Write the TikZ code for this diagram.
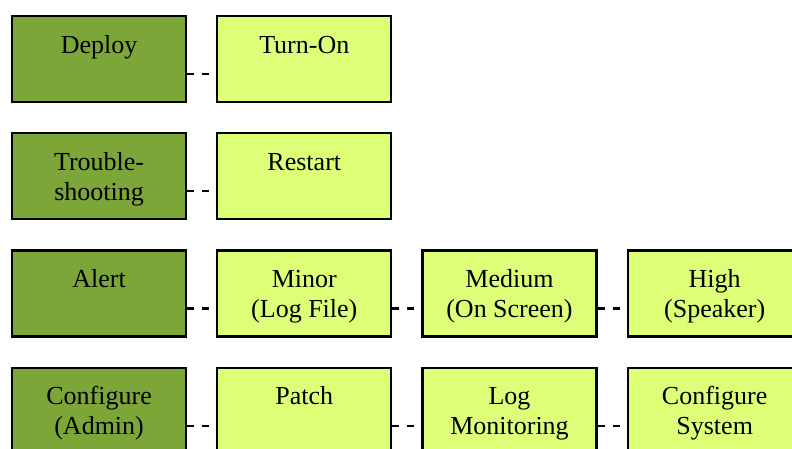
\documentclass[tikz,border=0pt]{standalone}
\usepackage{fontspec}
\setmainfont{Liberation Serif}
\newfontfamily\boxfont{Liberation Serif}
\usetikzlibrary{positioning}
\definecolor{stagegreen}{RGB}{124,166,56}
\definecolor{actiongreen}{RGB}{221,255,120}

\begin{document}
\begin{tikzpicture}[x=1pt,y=1pt,
    box/.style={draw=black,line width=2.2pt,minimum width=174pt,minimum height=86pt,
      inner sep=0pt,align=center,text height=48pt,text depth=0pt,
      font=\boxfont\fontsize{26}{30}\selectfont},
    stage/.style={box,fill=stagegreen},
    action/.style={box,fill=actiongreen},
    link/.style={line width=2.2pt,dash pattern=on 7pt off 8pt}]
    \clip (0,0) rectangle (792,-448);

    % stages on the left
    \node[stage,anchor=north west] (deploy) at (11,-15) {Deploy\\\strut};
    \node[stage,below=29pt of deploy] (trouble) {Trouble-\\shooting};
    \node[stage,below=29pt of trouble] (alert) {Alert\\\strut};
    \node[stage,below=29pt of alert] (config) {Configure\\(Admin)};

    % actions of each stage
    \node[action,right=29pt of deploy] (turnon) {Turn-On\\\strut};
    \node[action,right=29pt of trouble] (restart) {Restart\\\strut};
    \node[action,right=29pt of alert] (minor) {Minor\\(Log File)};
    \node[action,right=29pt of minor] (medium) {Medium\\(On Screen)};
    \node[action,right=29pt of medium] (high) {High\\(Speaker)};
    \node[action,right=29pt of config] (patch) {Patch\\\strut};
    \node[action,right=29pt of patch] (logmon) {Log\\Monitoring};
    \node[action,right=29pt of logmon] (confsys) {Configure\\System};

    \foreach \a/\b in {deploy/turnon,trouble/restart,alert/minor,minor/medium,
        medium/high,config/patch,patch/logmon,logmon/confsys}
      \draw[link] ([yshift=-15pt]\a.east) -- ([yshift=-15pt]\b.west);
\end{tikzpicture}
\end{document}
